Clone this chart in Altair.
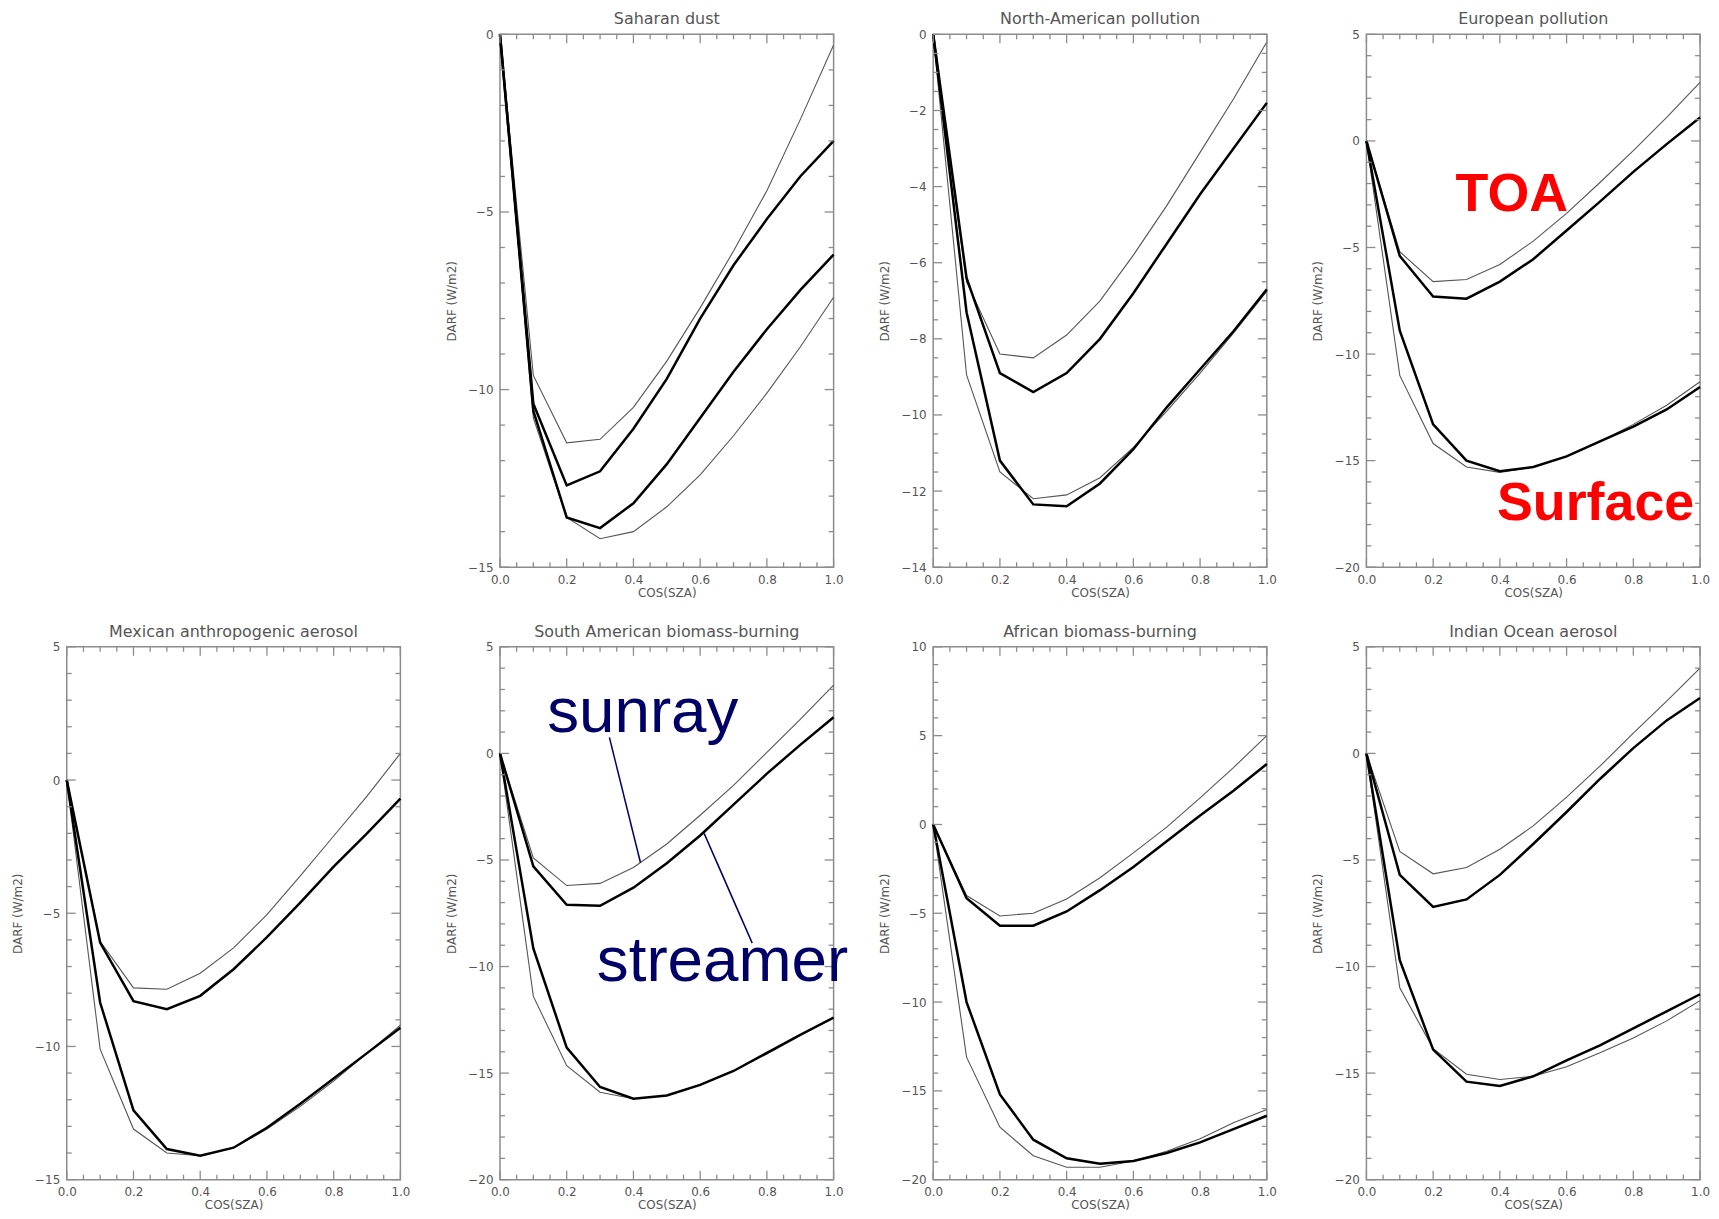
import altair as alt
import pandas as pd

COS_SZA = [0.0, 0.1, 0.2, 0.3, 0.4, 0.5, 0.6, 0.7, 0.8, 0.9, 1.0]

# Saharan dust
SAH_SUN_TOA = [0, -9.6, -11.5, -11.4, -10.5, -9.2, -7.7, -6.1, -4.4, -2.4, -0.3]
SAH_STR_TOA = [0, -10.4, -12.7, -12.3, -11.1, -9.7, -8.0, -6.5, -5.2, -4.0, -3.0]
SAH_SUN_SFC = [0, -10.8, -13.6, -14.2, -14.0, -13.3, -12.4, -11.3, -10.1, -8.8, -7.4]
SAH_STR_SFC = [0, -10.6, -13.6, -13.9, -13.2, -12.1, -10.8, -9.5, -8.3, -7.2, -6.2]

# North-American pollution
NA_SUN_TOA = [0, -6.5, -8.4, -8.5, -7.9, -7.0, -5.8, -4.5, -3.1, -1.7, -0.2]
NA_STR_TOA = [0, -6.4, -8.9, -9.4, -8.9, -8.0, -6.8, -5.5, -4.2, -3.0, -1.8]
NA_SUN_SFC = [0, -8.95, -11.5, -12.2, -12.1, -11.65, -10.85, -9.9, -8.9, -7.85, -6.75]
NA_STR_SFC = [0, -7.3, -11.2, -12.35, -12.4, -11.8, -10.9, -9.8, -8.8, -7.8, -6.7]

# European pollution
EU_SUN_TOA = [0, -5.2, -6.6, -6.5, -5.8, -4.7, -3.4, -1.95, -0.45, 1.1, 2.75]
EU_STR_TOA = [0, -5.4, -7.3, -7.4, -6.6, -5.55, -4.2, -2.85, -1.45, -0.15, 1.1]
EU_SUN_SFC = [0, -11.0, -14.2, -15.3, -15.55, -15.3, -14.8, -14.1, -13.3, -12.4, -11.3]
EU_STR_SFC = [0, -8.9, -13.3, -15.0, -15.5, -15.3, -14.8, -14.1, -13.4, -12.6, -11.55]

# Mexican anthropogenic aerosol
MX_SUN_TOA = [0, -6.05, -7.8, -7.85, -7.25, -6.3, -5.05, -3.6, -2.1, -0.6, 1.0]
MX_STR_TOA = [0, -6.1, -8.3, -8.6, -8.1, -7.1, -5.9, -4.6, -3.25, -2.0, -0.7]
MX_SUN_SFC = [0, -10.1, -13.1, -14.0, -14.1, -13.8, -13.1, -12.25, -11.3, -10.25, -9.2]
MX_STR_SFC = [0, -8.35, -12.4, -13.85, -14.1, -13.8, -13.05, -12.15, -11.2, -10.25, -9.3]

# South American biomass-burning
SA_SUN_TOA = [0, -4.9, -6.2, -6.1, -5.35, -4.25, -2.9, -1.5, 0.05, 1.6, 3.2]
SA_STR_TOA = [0, -5.3, -7.1, -7.15, -6.3, -5.15, -3.85, -2.4, -0.95, 0.4, 1.7]
SA_SUN_SFC = [0, -11.4, -14.65, -15.9, -16.2, -16.05, -15.55, -14.9, -14.1, -13.25, -12.4]
SA_STR_SFC = [0, -9.15, -13.8, -15.65, -16.2, -16.05, -15.55, -14.9, -14.05, -13.2, -12.4]

# African biomass-burning
AF_SUN_TOA = [0, -4.0, -5.15, -5.0, -4.2, -3.0, -1.6, -0.15, 1.5, 3.2, 5.0]
AF_STR_TOA = [0, -4.15, -5.7, -5.7, -4.9, -3.7, -2.4, -0.95, 0.5, 1.9, 3.4]
AF_SUN_SFC = [0, -13.1, -17.05, -18.65, -19.3, -19.3, -18.95, -18.4, -17.7, -16.8, -16.05]
AF_STR_SFC = [0, -10.0, -15.2, -17.75, -18.8, -19.1, -18.95, -18.5, -17.9, -17.15, -16.4]

# Indian Ocean aerosol
IO_SUN_TOA = [0, -4.6, -5.65, -5.35, -4.5, -3.4, -2.05, -0.6, 0.95, 2.45, 4.0]
IO_STR_TOA = [0, -5.7, -7.2, -6.85, -5.7, -4.25, -2.75, -1.2, 0.25, 1.55, 2.6]
IO_SUN_SFC = [0, -11.0, -13.85, -15.05, -15.3, -15.15, -14.7, -14.05, -13.35, -12.55, -11.6]
IO_STR_SFC = [0, -9.7, -13.9, -15.4, -15.6, -15.15, -14.4, -13.7, -12.9, -12.1, -11.3]

# Axis ticks
X_LABELS = [0.0, 0.2, 0.4, 0.6, 0.8, 1.0]
X_MINOR = [0.05, 0.1, 0.15, 0.25, 0.3, 0.35, 0.45, 0.5, 0.55, 0.65, 0.7, 0.75,
           0.85, 0.9, 0.95]
SAH_YTICKS = [0, -5, -10, -15]
NA_YTICKS = [0, -2, -4, -6, -8, -10, -12, -14]
EU_YTICKS = [5, 0, -5, -10, -15, -20]
MX_YTICKS = [5, 0, -5, -10, -15]
SA_YTICKS = [5, 0, -5, -10, -15, -20]
AF_YTICKS = [10, 5, 0, -5, -10, -15, -20]
IO_YTICKS = [5, 0, -5, -10, -15, -20]

# Annotations (data coordinates)
LABEL_TEXT_RED = ["TOA", "Surface"]
LABEL_X_RED = [0.436, 0.687]
LABEL_Y_RED = [-3.3, -17.8]
LABEL_TEXT_BLUE = ["sunray", "streamer"]
LABEL_X_BLUE = [0.428, 0.667]
LABEL_Y_BLUE = [1.0, -10.7]
LEADER_X1 = [0.328, 0.612]
LEADER_Y1 = [0.75, -3.75]
LEADER_X2 = [0.421, 0.756]
LEADER_Y2 = [-5.12, -8.9]

W, H = 335, 535
FRAME = "#8c8c8c"
TXT = "#555555"
FONT = "DejaVu Sans"
MAJ, MIN = 9, 5


def minor_ticks(major, step):
    lo, hi = min(major), max(major)
    out = []
    v = lo
    while v < hi - 1e-9:
        v = round(v + step, 6)
        if all(abs(v - m) > 1e-9 for m in major) and v < hi:
            out.append(v)
    return out


def panel(title, sun_toa, str_toa, sun_sfc, str_sfc, yticks, ystep, extra=None):
    rows = []
    for name, model, vals in [("sun_toa", "sunray", sun_toa), ("str_toa", "streamer", str_toa),
                              ("sun_sfc", "sunray", sun_sfc), ("str_sfc", "streamer", str_sfc)]:
        for x, y in zip(COS_SZA, vals):
            rows.append({"x": x, "y": y, "series": name, "model": model})
    df = pd.DataFrame(rows)
    ydom = [min(yticks), max(yticks)]
    xs = alt.Scale(domain=[0, 1], nice=False, zero=False)
    ys = alt.Scale(domain=ydom, nice=False, zero=False)

    xaxis = alt.Axis(values=X_LABELS, format=".1f", title="COS(SZA)", tickSize=0, domain=False,
                     grid=False, labelFlush=False, labelOverlap=False, labelPadding=7,
                     titlePadding=2)
    yaxis = alt.Axis(values=yticks, format="d", title="DARF (W/m2)", tickSize=0,
                     domain=False, grid=False, labelFlush=False, labelOverlap=False,
                     labelPadding=7, minExtent=27, maxExtent=27, titlePadding=15)

    thin = alt.Chart(df).transform_filter(alt.datum.model == "sunray").mark_line(
        color="#555555", strokeWidth=1.1).encode(
        x=alt.X("x:Q", scale=xs, axis=xaxis),
        y=alt.Y("y:Q", scale=ys, axis=yaxis),
        detail="series:N")
    thick = alt.Chart(df).transform_filter(alt.datum.model == "streamer").mark_line(
        color="#000000", strokeWidth=2.5).encode(
        x=alt.X("x:Q", scale=xs),
        y=alt.Y("y:Q", scale=ys),
        detail="series:N")
    layers = [thin, thick]

    xmaj = pd.DataFrame({"v": X_LABELS})
    xmin = pd.DataFrame({"v": X_MINOR})
    ymaj = pd.DataFrame({"v": yticks})
    ymin = pd.DataFrame({"v": minor_ticks(yticks, ystep)})
    for d, L in [(xmaj, MAJ), (xmin, MIN)]:
        base = alt.Chart(d).mark_rule(color=FRAME, strokeWidth=1.3)
        xe = alt.X("v:Q", scale=xs, title="COS(SZA)")
        layers.append(base.encode(x=xe, y=alt.value(0), y2=alt.value(L)))
        layers.append(base.encode(x=xe, y=alt.value(H), y2=alt.value(H - L)))
    for d, L in [(ymaj, MAJ), (ymin, MIN)]:
        base = alt.Chart(d).mark_rule(color=FRAME, strokeWidth=1.3)
        ye = alt.Y("v:Q", scale=ys, title="DARF (W/m2)")
        layers.append(base.encode(y=ye, x=alt.value(0), x2=alt.value(L)))
        layers.append(base.encode(y=ye, x=alt.value(W), x2=alt.value(W - L)))

    if extra == "red":
        adf = pd.DataFrame({"t": LABEL_TEXT_RED, "x": LABEL_X_RED, "y": LABEL_Y_RED})
        layers.append(alt.Chart(adf).mark_text(font="Liberation Sans", fontWeight="bold",
                                               fontSize=54, color="#ff0000", baseline="alphabetic",
                                               align="center").encode(
            x=alt.X("x:Q", scale=xs, title="COS(SZA)"),
            y=alt.Y("y:Q", scale=ys, title="DARF (W/m2)"), text="t:N"))
    if extra == "blue":
        ldf = pd.DataFrame({"x": LEADER_X1, "y": LEADER_Y1, "x2": LEADER_X2, "y2": LEADER_Y2})
        layers.append(alt.Chart(ldf).mark_rule(color="#000066", strokeWidth=1.5).encode(
            x=alt.X("x:Q", scale=xs, title="COS(SZA)"),
            y=alt.Y("y:Q", scale=ys, title="DARF (W/m2)"),
            x2="x2:Q", y2="y2:Q"))
        adf = pd.DataFrame({"t": LABEL_TEXT_BLUE, "x": LABEL_X_BLUE, "y": LABEL_Y_BLUE})
        layers.append(alt.Chart(adf).mark_text(font="Liberation Sans", fontSize=64,
                                               color="#000066", baseline="alphabetic",
                                               align="center").encode(
            x=alt.X("x:Q", scale=xs, title="COS(SZA)"),
            y=alt.Y("y:Q", scale=ys, title="DARF (W/m2)"), text="t:N"))

    return alt.layer(*layers).properties(width=W, height=H, title=title)


placeholder = alt.Chart(pd.DataFrame({"a": [0]})).mark_point(opacity=0).encode(
    x=alt.X("a:Q", axis=None), y=alt.Y("a:Q", axis=None)
).properties(width=W, height=H, view=alt.ViewBackground(strokeOpacity=0))

panels = [
    placeholder,
    panel("Saharan dust", SAH_SUN_TOA, SAH_STR_TOA, SAH_SUN_SFC, SAH_STR_SFC, SAH_YTICKS, 1),
    panel("North-American pollution", NA_SUN_TOA, NA_STR_TOA, NA_SUN_SFC, NA_STR_SFC, NA_YTICKS, 0.5),
    panel("European pollution", EU_SUN_TOA, EU_STR_TOA, EU_SUN_SFC, EU_STR_SFC, EU_YTICKS, 1, "red"),
    panel("Mexican anthropogenic aerosol", MX_SUN_TOA, MX_STR_TOA, MX_SUN_SFC, MX_STR_SFC, MX_YTICKS, 1),
    panel("South American biomass-burning", SA_SUN_TOA, SA_STR_TOA, SA_SUN_SFC, SA_STR_SFC, SA_YTICKS, 1, "blue"),
    panel("African biomass-burning", AF_SUN_TOA, AF_STR_TOA, AF_SUN_SFC, AF_STR_SFC, AF_YTICKS, 1),
    panel("Indian Ocean aerosol", IO_SUN_TOA, IO_STR_TOA, IO_SUN_SFC, IO_STR_SFC, IO_YTICKS, 1),
]

chart = alt.concat(
    *panels, columns=4, spacing=alt.RowColnumber(row=80, column=100), bounds="flush"
).properties(
    padding={"left": 3, "top": 0, "right": 0, "bottom": 0}
).configure_view(
    stroke=FRAME, strokeWidth=1.5
).configure_axis(
    labelFont=FONT, titleFont=FONT, labelFontSize=12, titleFontSize=12,
    labelColor=TXT, titleColor=TXT, titleFontWeight="normal"
).configure_title(
    font=FONT, fontSize=16, fontWeight="normal", color=TXT, offset=1, anchor="middle"
)

chart.save("out.html", embed_options={"renderer": "svg", "actions": False})
